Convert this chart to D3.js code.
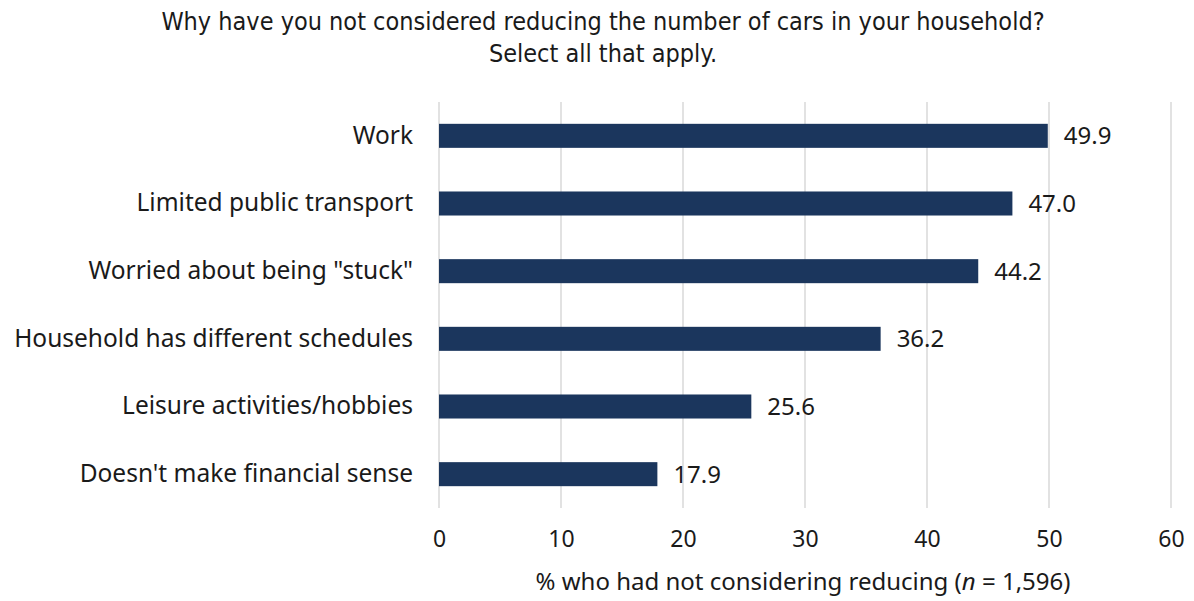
<!DOCTYPE html>
<html>
<head>
<meta charset="utf-8">
<script src="https://cdn.jsdelivr.net/npm/d3@7"></script>
<style>
  html, body { margin: 0; padding: 0; background: #fff; }
  svg { display: block; }
  text { fill: #1a1a1a; }
</style>
</head>
<body>
<svg id="chart" width="1194" height="601"></svg>
<script>
// Reasons for not reducing household cars (% of respondents)
const categories = [
  "Work",
  "Limited public transport",
  "Worried about being \"stuck\"",
  "Household has different schedules",
  "Leisure activities/hobbies",
  "Doesn't make financial sense"
];
const values = [49.9, 47.0, 44.2, 36.2, 25.6, 17.9];
const xTicks = [0, 10, 20, 30, 40, 50, 60];
const titleLines = [
  "Why have you not considered reducing the number of cars in your household?",
  "Select all that apply."
];

const W = 1194, H = 601;
const margin = { left: 439, right: 23, top: 102, bottom: 93 };
const svg = d3.select("#chart");
const labelFont = "'Noto Sans', 'Open Sans', sans-serif";

const x = d3.scaleLinear().domain([0, 60]).range([margin.left, W - margin.right]);
const y = d3.scaleBand().domain(categories)
  .range([margin.top, H - margin.bottom])
  .paddingInner(0.645).paddingOuter(0.3225);

// Vertical gridlines
svg.append("g").selectAll("line").data(xTicks).join("line")
  .attr("x1", d => x(d)).attr("x2", d => x(d))
  .attr("y1", margin.top).attr("y2", H - margin.bottom)
  .attr("stroke", "#d9d9d9").attr("stroke-width", 1.5);

// Bars
svg.append("g").selectAll("rect").data(values).join("rect")
  .attr("x", x(0))
  .attr("y", (d, i) => y(categories[i]))
  .attr("width", d => x(d) - x(0))
  .attr("height", y.bandwidth())
  .attr("fill", "#1b365d");

// Value labels
svg.append("g").selectAll("text").data(values).join("text")
  .attr("x", d => x(d) + 16)
  .attr("y", (d, i) => y(categories[i]) + y.bandwidth() / 2)
  .attr("dy", "0.36em")
  .attr("font-family", labelFont)
  .attr("font-size", 24)
  .text(d => d.toFixed(1));

// Category labels
const yAxis = d3.axisLeft(y).tickSize(0).tickPadding(26);
svg.append("g").attr("transform", `translate(${margin.left},0)`).call(yAxis)
  .call(g => g.select(".domain").remove())
  .selectAll("text")
  .attr("font-family", labelFont).attr("font-size", 24.5).attr("fill", "#1a1a1a");

// X axis tick labels
const xAxis = d3.axisBottom(x).tickValues(xTicks).tickSize(0).tickPadding(23).tickFormat(d3.format("d"));
svg.append("g").attr("transform", `translate(0,${H - margin.bottom})`).call(xAxis)
  .call(g => g.select(".domain").remove())
  .selectAll("text")
  .attr("font-family", labelFont).attr("font-size", 23).attr("fill", "#1a1a1a");

// X axis title
const xt = svg.append("text")
  .attr("x", 803).attr("y", 590)
  .attr("text-anchor", "middle")
  .attr("font-family", labelFont).attr("font-size", 24);
xt.append("tspan").text("% who had not considering reducing (");
xt.append("tspan").attr("font-style", "italic").text("n");
xt.append("tspan").text(" = 1,596)");

// Chart title
svg.append("g").selectAll("text").data(titleLines).join("text")
  .attr("x", 603)
  .attr("y", (d, i) => 30 + i * 32)
  .attr("text-anchor", "middle")
  .attr("font-family", "'Liberation Sans Narrow', 'DejaVu Sans Condensed', 'Roboto', sans-serif")
  .attr("font-stretch", "condensed")
  .attr("font-size", 25)
  .text(d => d);
</script>
</body>
</html>
